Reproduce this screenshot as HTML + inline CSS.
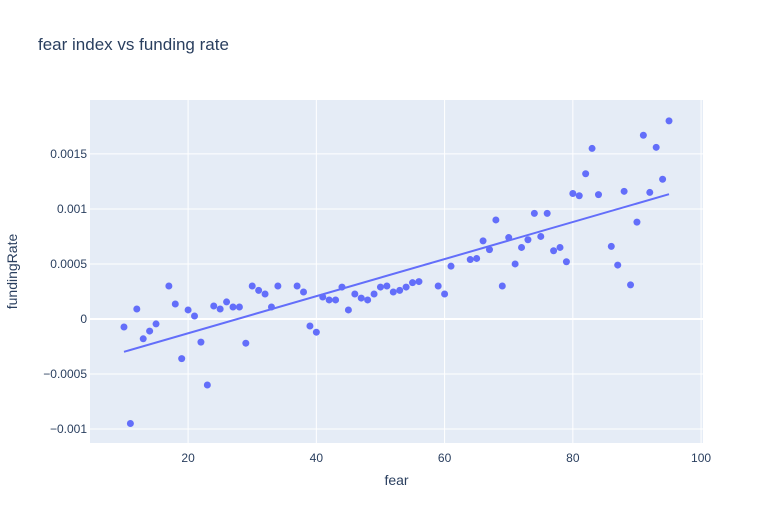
<!DOCTYPE html>
<html><head><meta charset="utf-8"><style>
body{margin:0;background:#fff;font-family:"Liberation Sans",sans-serif}
</style></head><body>
<svg id="chart" width="783" height="525" xmlns="http://www.w3.org/2000/svg"></svg>
<script>
const fearValues=[10,11,12,13,14,15,17,18,19,20,21,22,23,24,25,26,27,28,29,30,31,32,33,34,37,38,39,40,41,42,43,44,45,46,47,48,49,50,51,52,53,54,55,56,59,60,61,64,65,66,67,68,69,70,71,72,73,74,75,76,77,78,79,80,81,82,83,84,86,87,88,89,90,91,92,93,94,95];
const fundingRates=[-0.000073,-0.00095,0.000091,-0.00018,-0.00011,-0.000045,0.0003,0.000136,-0.00036,0.000082,0.000027,-0.00021,-0.0006,0.000118,0.000091,0.000155,0.000109,0.000109,-0.00022,0.0003,0.00026,0.000227,0.000109,0.0003,0.0003,0.000245,-0.000064,-0.00012,0.0002,0.000173,0.000173,0.00029,0.000082,0.000227,0.00019,0.000173,0.000227,0.00029,0.0003,0.000245,0.00026,0.00029,0.00033,0.00034,0.0003,0.000227,0.00048,0.00054,0.00055,0.00071,0.00063,0.0009,0.0003,0.00074,0.0005,0.00065,0.00072,0.00096,0.00075,0.00096,0.00062,0.00065,0.00052,0.00114,0.00112,0.00132,0.00155,0.00113,0.00066,0.00049,0.00116,0.00031,0.00088,0.00167,0.00115,0.00156,0.00127,0.0018];
const xTicks=[20,40,60,80,100];
const yTicks=[-0.001,-0.0005,0,0.0005,0.001,0.0015];
const yTickLabels=["−0.001","−0.0005","0","0.0005","0.001","0.0015"];

const svg=document.getElementById('chart');
const NS="http://www.w3.org/2000/svg";
const L=90,R=703,T=100,B=443;
const xMin=4.7,xMax=100.3,yMin=-0.001127,yMax=0.00199;
const sx=v=>L+(v-xMin)/(xMax-xMin)*(R-L);
const sy=v=>B-(v-yMin)/(yMax-yMin)*(B-T);
function mk(tag,attrs,name){const e=document.createElementNS(NS,tag);for(const k in attrs)e.setAttribute(k,attrs[k]);


svg.appendChild(e);return e;}
mk('rect',{x:L,y:T,width:R-L,height:B-T,fill:'#e5ecf6'},'plot-background');
xTicks.forEach(t=>{const x=sx(t);mk('line',{x1:x,x2:x,y1:T,y2:B,stroke:'#fff','stroke-width':1},'x-gridline');
const tx=mk('text',{x:x,y:B+19,'text-anchor':'middle','font-size':12,fill:'#2a3f5f'},'x-tick-label');tx.textContent=t;});
yTicks.forEach((t,i)=>{const y=sy(t);mk('line',{x1:L,x2:R,y1:y,y2:y,stroke:'#fff','stroke-width':t===0?2:1},t===0?'y-zero-line':'y-gridline');
const tx=mk('text',{x:L-3,y:y+4,'text-anchor':'end','font-size':12,fill:'#2a3f5f'},'y-tick-label');tx.textContent=yTickLabels[i];});
// OLS trendline
const n=fearValues.length;let mx=0,my=0;for(let i=0;i<n;i++){mx+=fearValues[i];my+=fundingRates[i];}mx/=n;my/=n;
let sxy=0,sxx=0;for(let i=0;i<n;i++){sxy+=(fearValues[i]-mx)*(fundingRates[i]-my);sxx+=(fearValues[i]-mx)**2;}
const slope=sxy/sxx,icpt=my-slope*mx;
const x0=Math.min(...fearValues),x1=Math.max(...fearValues);
fearValues.forEach((f,i)=>{mk('circle',{cx:sx(f),cy:sy(fundingRates[i]),r:3.5,fill:'#636efa'},'data-point');});
mk('line',{x1:sx(x0),y1:sy(icpt+slope*x0),x2:sx(x1),y2:sy(icpt+slope*x1),stroke:'#636efa','stroke-width':2},'trendline');
let t=mk('text',{x:38,y:50,'font-size':17,fill:'#2a3f5f'},'chart-title');t.textContent='fear index vs funding rate';
t=mk('text',{x:(L+R)/2,y:485,'text-anchor':'middle','font-size':14,fill:'#2a3f5f'},'x-axis-title');t.textContent='fear';
t=mk('text',{x:17,y:(T+B)/2,'text-anchor':'middle','font-size':14,fill:'#2a3f5f',transform:`rotate(-90 17 ${(T+B)/2})`},'y-axis-title');t.textContent='fundingRate';
</script>
</body></html>
